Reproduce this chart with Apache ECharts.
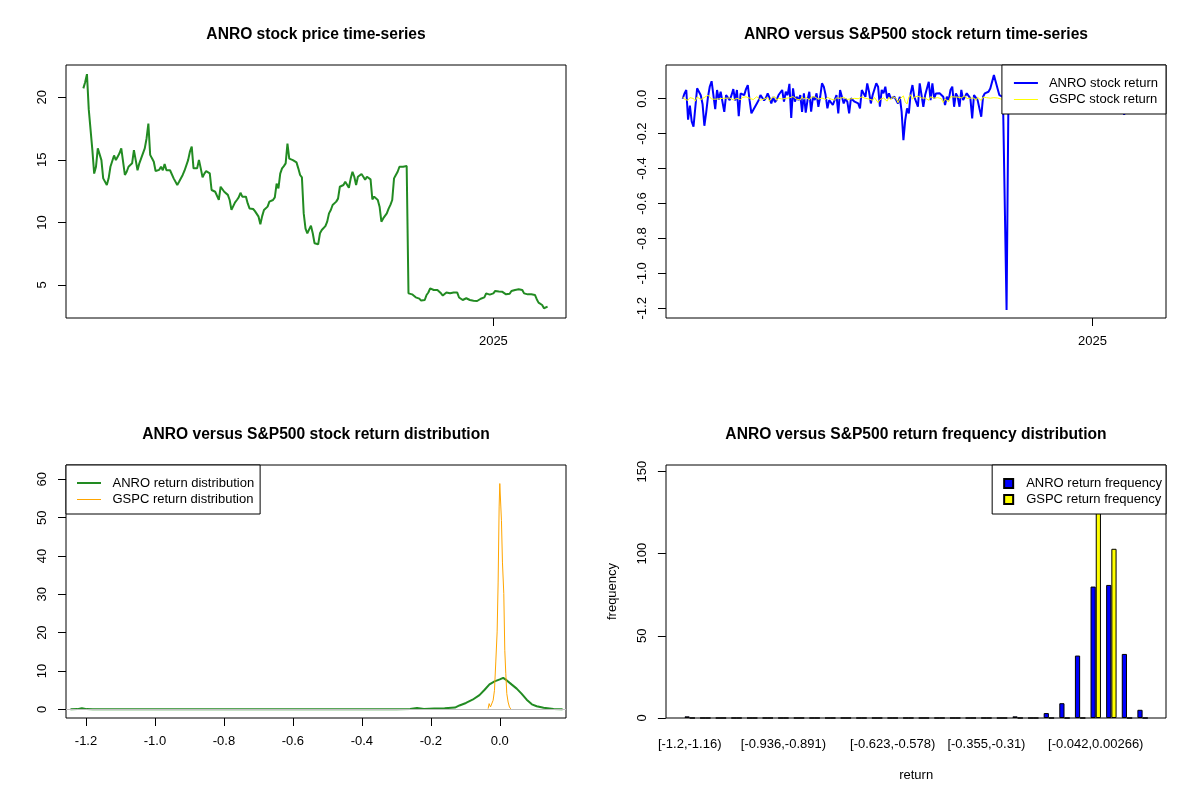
<!DOCTYPE html>
<html>
<head>
<meta charset="utf-8">
<script src="https://cdn.jsdelivr.net/npm/echarts@6/dist/echarts.min.js"></script>
<style>
  html, body { margin: 0; padding: 0; background: #fff; }
  #main { width: 1200px; height: 800px; }
</style>
</head>
<body>
<div id="main"></div>
<script>
// ANRO closing price, one value per trading day (index 0 = first day)
const anroPrice = [
  20.71, 21.2, 21.85, 19.03, 18.92, 15.78, 13.9, 14.45, 15.92, 15.92,
  14.98, 13.52, 13.44, 12.99, 13.52, 14.45, 14.3, 15.35, 14.98, 15.25,
  15.52, 15.92, 15.92, 13.79, 14.05, 14.45, 14.4, 14.72, 15.78, 14.98,
  14.17, 14.72, 15.12, 15.25, 15.92, 16.71, 17.9, 15.4, 15.12, 14.85,
  14.11, 14.11, 14.2, 14.45, 14.17, 14.66, 14.17, 14.24, 14.17, 14.17,
  13.52, 13.44, 12.99, 13.25, 13.4, 13.79, 14.13, 14.17, 14.98, 15.65,
  16.05, 14.32, 14.32, 14.32, 15.0, 14.32, 13.6, 13.9, 14.1, 14.11,
  13.92, 12.59, 12.45, 12.45, 12.45, 11.8, 12.85, 12.72, 12.45, 12.45,
  12.2, 11.79, 11.0, 11.3, 11.6, 11.79, 12.0, 12.37, 12.06, 12.06,
  12.06, 11.52, 11.12, 11.1, 11.07, 10.9, 10.86, 10.46, 9.85, 10.5,
  10.99, 11.12, 11.26, 11.66, 11.7, 11.79, 12.0, 13.1, 12.72, 13.9,
  14.32, 14.5, 14.72, 16.3, 15.1, 14.98, 14.98, 14.98, 14.8, 14.32,
  13.79, 13.6, 10.72, 9.5, 9.13, 9.13, 9.74, 9.13, 8.33, 8.19,
  8.25, 9.13, 9.39, 9.53, 9.7, 10.06, 10.72, 10.99, 11.39, 11.52,
  11.66, 11.9, 12.85, 12.95, 12.99, 13.25, 13.33, 12.77, 13.5, 14.05,
  13.65, 12.99, 13.65, 13.8, 13.87, 13.65, 13.4, 13.65, 13.65, 13.44,
  11.84, 12.06, 12.06, 11.79, 11.26, 10.06, 10.32, 10.45, 10.72, 11.1,
  11.4, 11.79, 13.52, 13.79, 14.05, 14.45, 14.45, 14.45, 14.45, 14.5,
  4.33, 4.2, 4.25, 4.1, 4.01, 4.01, 3.91, 3.75, 3.75, 3.8,
  4.2, 4.4, 4.73, 4.6, 4.6, 4.6, 4.6, 4.6, 4.33, 4.15,
  4.3, 4.39, 4.28, 4.33, 4.36, 4.39, 4.39, 4.39, 4.0, 3.94,
  3.8, 3.94, 3.94, 3.8, 3.8, 3.8, 3.74, 3.67, 3.72, 3.86,
  3.9, 4.01, 4.01, 4.33, 4.25, 4.23, 4.2, 4.33, 4.52, 4.5,
  4.47, 4.47, 4.45, 4.39, 4.25, 4.25, 4.3, 4.52, 4.55, 4.6,
  4.6, 4.65, 4.73, 4.6, 4.33, 4.39, 4.25, 4.33, 4.25, 4.2,
  4.2, 3.86, 3.59, 3.48, 3.4, 3.14, 3.27, 3.27
];

// daily returns, index 1 = second trading day
const anroReturn = [
  0.0, 0.03, 0.05, -0.12, -0.04, -0.13, -0.16, -0.17, 0.06, 0.06,
  0.02, -0.03, -0.155, -0.08, 0.01, 0.07, 0.1, 0.1, -0.06, 0.05,
  -0.005, 0.04, 0.03, -0.075, 0.02, 0.01, -0.008, 0.02, 0.055, -0.01,
  0.05, -0.1, 0.03, 0.04, 0.02, 0.055, 0.078, -0.01, -0.084, -0.065,
  -0.055, -0.027, -0.008, 0.021, 0.03, -0.01, 0.005, 0.03, 0.005, -0.027,
  0.01, -0.02, -0.005, 0.021, 0.011, 0.05, -0.017, 0.04, 0.02, 0.085,
  -0.11, 0.059, -0.017, 0.011, -0.008, 0.021, -0.075, 0.031, -0.08, -0.008,
  0.04, -0.074, 0.011, -0.008, 0.031, -0.046, 0.011, 0.088, 0.069, 0.021,
  -0.055, -0.008, 0.002, -0.036, -0.027, 0.021, -0.084, 0.05, 0.04, -0.027,
  0.0, -0.017, -0.084, 0.002, 0.002, -0.017, -0.008, -0.027, -0.055, 0.05,
  0.059, 0.011, 0.088, 0.04, -0.027, 0.021, 0.03, 0.088, 0.069, -0.046,
  0.05, 0.031, 0.069, 0.002, 0.031, 0.002, -0.008, 0.011, -0.008, -0.027,
  0.011, -0.074, -0.237, -0.122, -0.055, -0.084, 0.031, 0.078, 0.011, -0.017,
  -0.046, 0.088, 0.078, -0.046, 0.021, 0.011, 0.097, -0.008, 0.088, 0.002,
  0.03, 0.04, 0.031, 0.031, 0.011, -0.036, 0.011, -0.008, 0.05, 0.069,
  -0.046, 0.03, 0.011, -0.046, 0.05, -0.008, -0.017, 0.031, 0.021, 0.002,
  -0.113, 0.021, 0.011, -0.008, -0.017, -0.103, 0.011, 0.031, 0.04, 0.04,
  0.059, 0.069, 0.135, 0.097, 0.059, 0.021, 0.011, 0.011, 0.0, -1.21,
  -0.03, 0.012, -0.035, -0.022, 0.0, -0.025, -0.042, 0.0, 0.013, 0.1,
  0.046, 0.072, -0.028, 0.0, 0.0, 0.0, 0.0, -0.06, -0.042, 0.035,
  0.02, -0.025, 0.012, 0.007, 0.007, 0.0, 0.0, -0.07, -0.015, -0.036,
  0.036, 0.0, -0.036, 0.0, 0.0, -0.016, -0.019, 0.014, 0.037, 0.01,
  0.028, 0.0, 0.077, -0.018, -0.005, -0.007, 0.03, 0.043, -0.004, -0.007,
  0.0, -0.004, -0.014, -0.032, 0.0, 0.012, 0.05, 0.007, 0.011, 0.0,
  0.011, 0.017, -0.028, -0.06, -0.092, 0.014, 0.019, -0.019, -0.012, 0.0,
  -0.075, -0.06, -0.03, -0.023, -0.06, 0.04, 0.0
];

const gspcReturn = [
  0.011, -0.003, 0.002, -0.009, 0.006, 0.004, 0.001, -0.014, 0.010, 0.006,
  -0.005, 0.002, 0.007, -0.004, 0.020, 0.011, -0.002, 0.003, -0.003, 0.008,
  -0.001, 0.010, 0.002, -0.006, 0.003, -0.003, 0.004, 0.009, -0.007, 0.003,
  0.003, 0.001, -0.006, 0.007, -0.002, 0.011, 0.005, 0.003, 0.002, -0.005,
  -0.003, 0.012, 0.001, -0.008, -0.012, -0.002, 0.004, 0.007, -0.014, 0.003,
  0.009, 0.012, -0.009, 0.003, 0.010, -0.002, 0.004, 0.002, -0.006, 0.005,
  0.009, 0.012, 0.002, -0.003, 0.001, -0.007, 0.010, -0.004, 0.008, 0.003,
  -0.006, 0.009, -0.002, 0.011, 0.001, -0.003, 0.006, 0.004, 0.002, -0.005,
  0.008, 0.011, -0.002, 0.003, -0.008, 0.005, 0.002, 0.002, -0.005, 0.008,
  0.002, -0.004, 0.003, -0.001, 0.006, 0.002, 0.004, 0.000, -0.003, 0.010,
  0.005, 0.002, 0.011, -0.002, 0.008, -0.009, 0.007, 0.011, -0.022, -0.005,
  -0.016, 0.004, 0.011, -0.014, 0.008, -0.005, 0.012, 0.001, 0.002, -0.023,
  -0.001, -0.010, 0.016, -0.018, -0.030, 0.010, 0.023, -0.003, 0.009, 0.017,
  0.015, 0.006, 0.004, 0.010, 0.004, 0.002, -0.009, 0.011, 0.010, 0.003,
  -0.006, 0.006, 0.010, 0.000, -0.021, -0.002, 0.003, -0.017, 0.011, 0.004,
  0.010, 0.011, 0.009, 0.000, 0.005, -0.003, 0.017, 0.001, 0.003, 0.003,
  -0.002, 0.004, -0.009, 0.008, 0.006, -0.010, 0.009, 0.006, 0.006, 0.000,
  0.003, -0.008, 0.006, 0.002, 0.004, 0.004, -0.002, -0.001, -0.009, -0.009,
  0.012, 0.004, -0.007, -0.018, 0.010, 0.012, 0.004, 0.000, -0.004, 0.024,
  0.007, 0.004, 0.001, 0.000, -0.003, -0.006, -0.013, 0.001, 0.004, -0.001,
  0.000, 0.006, 0.003, 0.002, -0.003, 0.011, 0.004, 0.011, -0.006, 0.001,
  0.005, 0.003, -0.003, 0.008, 0.004, -0.003, -0.005, -0.029, 0.011, 0.011,
  -0.011, 0.011, 0.007, -0.010, -0.004, 0.016, 0.006, -0.011, -0.001, 0.002,
  -0.015, -0.002, 0.010, 0.009, 0.009, 0.006, 0.009, 0.003, -0.015, 0.009,
  0.005, 0.002, -0.005, -0.008, 0.012, 0.001, -0.016, 0.003, 0.007, 0.004,
  0.007, -0.003, 0.008, 0.003, 0.003, -0.004, 0.004
];

// kernel density estimates
const anroDensX = [-1.245, -1.225, -1.212, -1.198, -1.18, -0.30, -0.26, -0.24, -0.22, -0.19,
  -0.16, -0.13, -0.117, -0.098, -0.079, -0.059, -0.044, -0.03, -0.015, 0.0,
  0.0098, 0.0195, 0.034, 0.049, 0.063, 0.078, 0.093, 0.107, 0.127, 0.156, 0.182];
const anroDensY = [0.0, 0.05, 0.3, 0.05, 0.0, 0.0, 0.1, 0.35, 0.1, 0.2,
  0.3, 0.45, 1.0, 1.65, 2.5, 3.7, 5.1, 6.5, 7.3, 7.8,
  8.2, 7.6, 6.5, 5.4, 4.1, 2.5, 1.3, 0.8, 0.4, 0.1, 0.0];
const gspcDensX = [-0.0338, -0.0309, -0.027, -0.0232, -0.0193, -0.0154, -0.0116, -0.0077, -0.0048, -0.0019,
  0.0, 0.0019, 0.0048, 0.0077, 0.0116, 0.0145, 0.0174, 0.0203, 0.0241, 0.028, 0.0319];
const gspcDensY = [0.17, 1.48, 0.61, 1.04, 2.35, 4.96, 12.35, 20.2, 33.2, 52.8,
  58.9, 59.1, 49.3, 38.4, 30.2, 15.4, 9.3, 4.1, 1.9, 0.6, 0.1];

// histogram bins
const binEdges = ['-1.2', '-1.16', '-1.11', '-1.07', '-1.03', '-0.981', '-0.936', '-0.891', '-0.846', '-0.802',
  '-0.757', '-0.712', '-0.668', '-0.623', '-0.578', '-0.534', '-0.489', '-0.444', '-0.4', '-0.355',
  '-0.31', '-0.265', '-0.221', '-0.176', '-0.131', '-0.0867', '-0.042', '0.00266', '0.0474', '0.092', '0.137'];
const anroFreq = [1, 0, 0, 0, 0, 0, 0, 0, 0, 0, 0, 0, 0, 0, 0, 0, 0, 0, 0, 0, 0, 1, 0, 3, 9, 38, 80, 81, 39, 5];
const gspcFreq = [0, 0, 0, 0, 0, 0, 0, 0, 0, 0, 0, 0, 0, 0, 0, 0, 0, 0, 0, 0, 0, 0, 0, 0, 0, 0, 154, 103, 0, 0];
const shownBins = [0, 6, 13, 19, 26];

// axis ticks
const priceTicks = [5, 10, 15, 20];
const returnTicks = [-1.2, -1.0, -0.8, -0.6, -0.4, -0.2, 0];
const densXTicks = [-1.2, -1.0, -0.8, -0.6, -0.4, -0.2, 0];
const densYTicks = [0, 10, 20, 30, 40, 50, 60];
const freqTicks = [0, 50, 100, 150];
const priceYearTick = [227];
const returnYearTick = [227.5];

const binLabels = anroFreq.map((_, i) => '[' + binEdges[i] + ',' + binEdges[i + 1] + ')');

const font = 'Liberation Sans, Arial, sans-serif';
const chart = echarts.init(document.getElementById('main'));

// legend line samples: invisible end points keep the box 13px tall
const thickLine = 'path://M0,0L0.01,0M0,13L0.01,13M0,5H24V7H0Z';
const thinLine = 'path://M0,0L0.01,0M0,13L0.01,13M0,6H24V7H0Z';

const tick = (vals) => ({
  show: true, inside: false, length: 8, customValues: vals,
  lineStyle: { color: '#000', width: 1 }
});
const label = (vals, fmt, rotate) => ({
  show: true, customValues: vals, formatter: fmt, rotate: rotate || 0,
  margin: 17, color: '#000', fontSize: 13, fontFamily: font
});
const box = (left, top) => ({
  left: left, top: top, width: 500, height: 253, show: true,
  borderColor: '#000', borderWidth: 1, backgroundColor: 'transparent'
});
const valAxis = (grid, min, max, vals, fmt, rotate) => ({
  gridIndex: grid, type: 'value', min: min, max: max,
  axisLine: { show: false, onZero: false }, splitLine: { show: false },
  axisTick: tick(vals), axisLabel: label(vals, fmt, rotate)
});
const legendBox = {
  orient: 'vertical', selectedMode: false, borderColor: '#000', borderWidth: 1,
  backgroundColor: '#fff', borderRadius: 0,
  textStyle: { fontSize: 13, fontFamily: font, color: '#000', padding: [0, 0, 0, 6] }
};
const title = (text, x, y) => ({
  text: text, left: x, top: y, textAlign: 'center', padding: 0,
  textStyle: { fontSize: 15.6, fontWeight: 'bold', fontFamily: font, color: '#000' }
});
const fix1 = v => v.toFixed(1);
const plain = v => String(v);

const option = {
  animation: false,
  backgroundColor: '#fff',
  textStyle: { fontFamily: font },
  title: [
    title('ANRO stock price time-series', 316, 27),
    title('ANRO versus S&P500 stock return time-series', 916, 27),
    title('ANRO versus S&P500 stock return distribution', 316, 427),
    title('ANRO versus S&P500 return frequency distribution', 916, 427)
  ],
  grid: [
    box(66, 65),
    box(666, 65),
    box(66, 465),
    box(666, 465),
    { left: 681.9, top: 465, width: 468.5, height: 253, show: false }
  ],
  xAxis: [
    valAxis(0, -9.6, 267.2, priceYearTick, () => '2025'),
    valAxis(1, -8.2, 268.1, returnYearTick, () => '2025'),
    valAxis(2, -1.258, 0.192, densXTicks, fix1),
    { gridIndex: 3, type: 'value', show: false },
    {
      gridIndex: 4, type: 'category', data: binLabels,
      axisLine: { show: false, onZero: false }, axisTick: { show: false }, splitLine: { show: false },
      axisLabel: {
        interval: (i) => shownBins.indexOf(i) >= 0,
        margin: 20, color: '#000', fontSize: 13, fontFamily: font
      },
      name: 'return', nameLocation: 'middle', nameGap: 51,
      nameTextStyle: { fontSize: 13, fontFamily: font, color: '#000' }
    }
  ],
  yAxis: [
    valAxis(0, 2.36, 22.58, priceTicks, plain, 90),
    valAxis(1, -1.2555, 0.193, returnTicks, fix1, 90),
    valAxis(2, -2.27, 63.74, densYTicks, plain, 90),
    { gridIndex: 3, type: 'value', show: false },
    Object.assign(valAxis(4, 0, 154, freqTicks, plain, 90), {
      offset: 16,
      name: 'frequency', nameLocation: 'middle', nameRotate: 90, nameGap: 47,
      nameTextStyle: { fontSize: 13, fontFamily: font, color: '#000' }
    })
  ],
  legend: [
    Object.assign({}, legendBox, {
      right: 34, top: 65, itemWidth: 24, itemHeight: 13, itemGap: 3,
      padding: [12, 8, 8, 12],
      data: [
        { name: 'ANRO stock return', icon: thickLine },
        { name: 'GSPC stock return', icon: thinLine }
      ]
    }),
    Object.assign({}, legendBox, {
      left: 66, top: 465, itemWidth: 25, itemHeight: 13, itemGap: 3,
      padding: [12, 6, 8, 11],
      data: [
        { name: 'ANRO return distribution', icon: thickLine },
        { name: 'GSPC return distribution', icon: thinLine }
      ]
    }),
    Object.assign({}, legendBox, {
      right: 34, top: 465, itemWidth: 9, itemHeight: 9, itemGap: 3, icon: 'rect',
      padding: [12, 4, 8, 11],
      textStyle: { fontSize: 13, fontFamily: font, color: '#000', padding: [0, 0, 0, 8] },
      data: ['ANRO return frequency', 'GSPC return frequency']
    })
  ],
  series: [
    {
      name: 'ANRO price', type: 'line', xAxisIndex: 0, yAxisIndex: 0,
      data: anroPrice.map((v, i) => [i, v]),
      symbol: 'none', lineStyle: { color: '#228B22', width: 2 }, itemStyle: { color: '#228B22' }
    },
    {
      name: 'ANRO stock return', type: 'line', xAxisIndex: 1, yAxisIndex: 1,
      data: anroReturn.map((v, i) => [i + 1, v]),
      symbol: 'none', lineStyle: { color: '#0000FF', width: 2 }, itemStyle: { color: '#0000FF' }
    },
    {
      name: 'GSPC stock return', type: 'line', xAxisIndex: 1, yAxisIndex: 1,
      data: gspcReturn.map((v, i) => [i + 1, v]),
      symbol: 'none', lineStyle: { color: '#FFFF00', width: 1 }, itemStyle: { color: '#FFFF00' }
    },
    {
      name: 'ANRO return distribution', type: 'line', xAxisIndex: 2, yAxisIndex: 2,
      data: anroDensX.map((x, i) => [x, anroDensY[i]]),
      symbol: 'none', lineStyle: { color: '#228B22', width: 2 }, itemStyle: { color: '#228B22' },
      markLine: {
        silent: true, symbol: 'none', label: { show: false },
        lineStyle: { color: '#BEBEBE', width: 1, type: 'solid' },
        data: [{ yAxis: 0 }]
      }
    },
    {
      name: 'GSPC return distribution', type: 'line', xAxisIndex: 2, yAxisIndex: 2,
      data: gspcDensX.map((x, i) => [x, gspcDensY[i]]),
      symbol: 'none', lineStyle: { color: '#FFA500', width: 1 }, itemStyle: { color: '#FFA500' }
    },
    {
      name: 'ANRO return frequency', type: 'bar', xAxisIndex: 4, yAxisIndex: 4,
      data: anroFreq, barGap: '0%', barCategoryGap: '33.33%',
      itemStyle: { color: '#0000FF', borderColor: '#000', borderWidth: 1 }
    },
    {
      name: 'GSPC return frequency', type: 'bar', xAxisIndex: 4, yAxisIndex: 4,
      data: gspcFreq, barGap: '0%', barCategoryGap: '33.33%',
      itemStyle: { color: '#FFFF00', borderColor: '#000', borderWidth: 1 }
    }
  ]
};

chart.setOption(option);
</script>
</body>
</html>
